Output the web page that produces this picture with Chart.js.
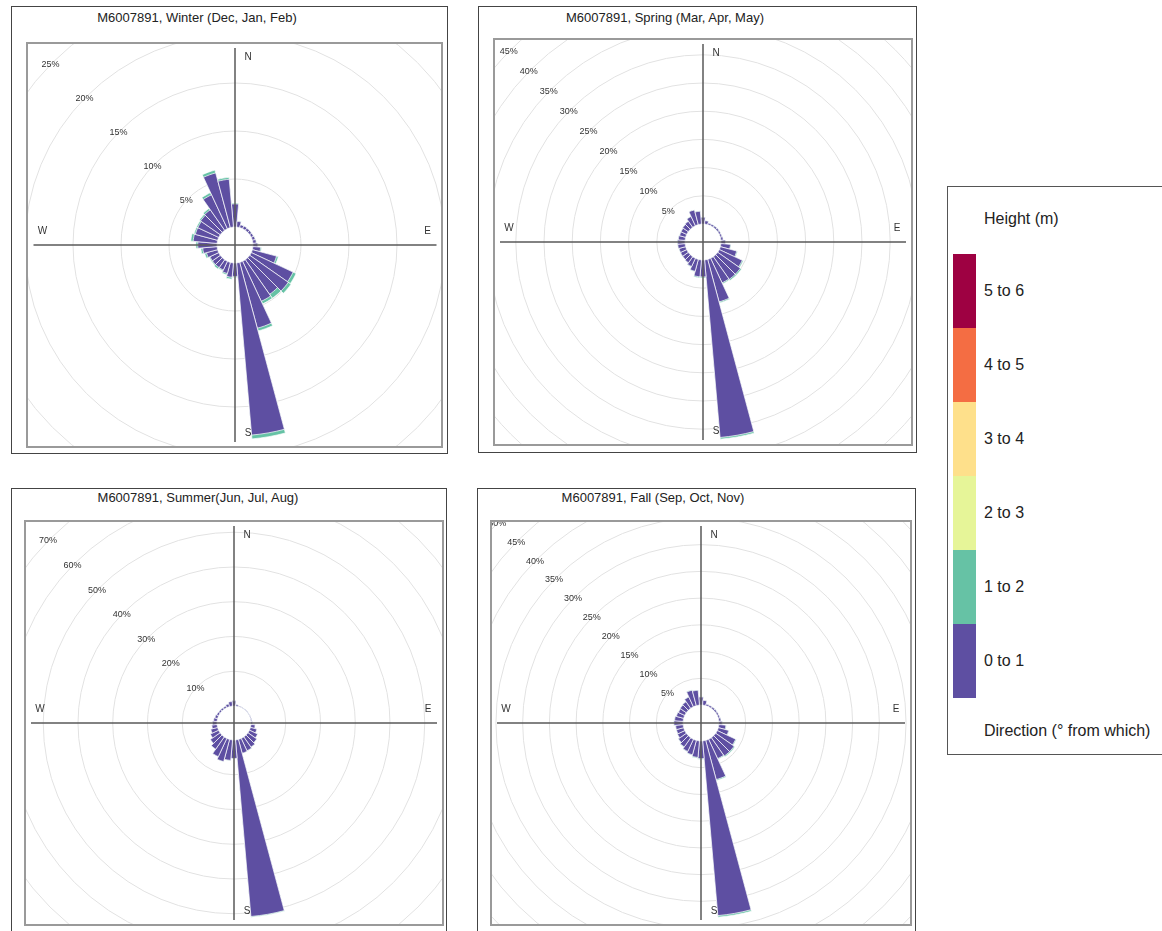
<!DOCTYPE html>
<html>
<head>
<meta charset="utf-8">
<script src="https://cdn.jsdelivr.net/npm/chart.js@4.4.1/dist/chart.umd.min.js"></script>
<style>
  html, body { margin: 0; padding: 0; background: #fff; }
  body { width: 1162px; height: 931px; overflow: hidden; position: relative; font-family: "Liberation Sans", Arial, sans-serif; }
  .frame { position: absolute; border: 1.5px solid #444; box-sizing: border-box; }
  .title { position: absolute; font-size: 13px; color: #222; white-space: nowrap; transform: translateX(-50%); }
  .box { position: absolute; border: 2px solid #9a9a9a; box-sizing: border-box; overflow: hidden; }
  .box canvas { position: absolute; }
  .legend { position: absolute; left: 947px; top: 186px; width: 240px; height: 569px; border: 1px solid #555; box-sizing: border-box; }
  .legend .txt { position: absolute; left: 36px; font-size: 16px; color: #222; white-space: nowrap; transform: translateY(-50%); }
  .legend .swatch { position: absolute; left: 5px; width: 23px; }
</style>
</head>
<body>
<div id="root"></div>
<div class="legend" id="legend"></div>
<script>
// direction bins (degrees, from which), 10 degree sectors
const directions = [0, 10, 20, 30, 40, 50, 60, 70, 80, 90, 100, 110, 120, 130, 140, 150, 160, 170,
                    180, 190, 200, 210, 220, 230, 240, 250, 260, 270, 280, 290, 300, 310, 320, 330, 340, 350];

const heightBins = ['0 to 1', '1 to 2', '2 to 3', '3 to 4', '4 to 5', '5 to 6'];
const heightColors = ['#5e4fa2', '#66c2a5', '#e6f598', '#fee08b', '#f46d43', '#9e0142'];

// frequency (%) per direction, height 0-1 m and 1-2 m
const winterLow = [2.4, 0.6, 0.3, 0.3, 0.25, 0.25, 0.25, 0.3, 0.35, 0.5, 0.8, 2.6, 4.8, 4.9, 4.4, 4.6, 7.1, 18.0,
                   1.4, 1.5, 1.2, 1.0, 1.0, 1.0, 1.0, 1.2, 1.5, 2.0, 2.5, 2.4, 2.4, 2.5, 2.6, 3.9, 5.9, 5.0];
const winterMid = [0.1, 0.05, 0.02, 0.02, 0.02, 0.02, 0.02, 0.02, 0.03, 0.05, 0.1, 0.2, 0.35, 0.35, 0.5, 0.3, 0.3, 0.4,
                   0.1, 0.2, 0.15, 0.1, 0.2, 0.1, 0.1, 0.2, 0.2, 0.2, 0.25, 0.15, 0.15, 0.15, 0.2, 0.25, 0.3, 0.2];

const springLow = [1.2, 0.6, 0.3, 0.3, 0.3, 0.3, 0.3, 0.3, 0.4, 0.8, 1.7, 3.0, 4.5, 4.9, 4.9, 4.8, 7.8, 31.6,
                   3.0, 3.0, 2.2, 1.6, 1.3, 1.2, 1.2, 1.2, 1.3, 1.3, 1.2, 1.1, 1.1, 1.2, 1.3, 1.8, 2.7, 2.3];
const springMid = [0.05, 0.03, 0.02, 0.02, 0.02, 0.02, 0.02, 0.02, 0.03, 0.05, 0.1, 0.15, 0.2, 0.25, 0.25, 0.2, 0.2, 0.3,
                   0.2, 0.2, 0.1, 0.1, 0.05, 0.05, 0.05, 0.05, 0.05, 0.1, 0.05, 0.05, 0.05, 0.05, 0.05, 0.05, 0.05, 0.05];

const summerLow = [1.5, 0.4, 0.2, 0.15, 0.15, 0.15, 0.15, 0.2, 0.25, 0.4, 1.2, 1.9, 2.6, 3.1, 3.6, 3.9, 4.1, 51.0,
                   5.3, 5.9, 6.6, 5.8, 4.3, 3.4, 2.6, 2.0, 1.5, 1.3, 1.0, 0.8, 0.6, 0.5, 0.5, 0.5, 0.8, 1.3];
const summerMid = [0.03, 0.01, 0.01, 0.01, 0.01, 0.01, 0.01, 0.01, 0.01, 0.02, 0.03, 0.05, 0.05, 0.05, 0.05, 0.05, 0.05, 0.2,
                   0.05, 0.05, 0.05, 0.05, 0.05, 0.03, 0.03, 0.02, 0.02, 0.02, 0.02, 0.02, 0.01, 0.01, 0.01, 0.01, 0.02, 0.02];

const fallLow = [1.5, 0.9, 0.3, 0.3, 0.3, 0.3, 0.3, 0.3, 0.4, 0.6, 1.3, 2.0, 3.8, 4.2, 4.2, 4.0, 7.6, 32.8,
                 3.3, 3.1, 2.8, 2.5, 2.1, 1.8, 1.5, 1.4, 1.4, 1.7, 1.6, 1.4, 1.3, 1.4, 1.5, 2.0, 3.0, 2.8];
const fallMid = [0.05, 0.03, 0.02, 0.02, 0.02, 0.02, 0.02, 0.02, 0.03, 0.05, 0.1, 0.1, 0.15, 0.2, 0.2, 0.15, 0.2, 0.3,
                 0.15, 0.15, 0.1, 0.1, 0.1, 0.05, 0.05, 0.05, 0.05, 0.05, 0.05, 0.05, 0.05, 0.05, 0.05, 0.05, 0.1, 0.05];

// layout of the four panels
const panels = [
  { title: 'M6007891, Winter (Dec, Jan, Feb)', low: winterLow, mid: winterMid,
    hole: 1.875, max: 30, step: 5, radius: 306,
    frame: [11, 6, 437, 448], titleX: 197, titleY: 10, box: [26, 42, 417, 406] },
  { title: 'M6007891, Spring (Mar, Apr, May)', low: springLow, mid: springMid,
    hole: 3.19, max: 50, step: 5, radius: 300,
    frame: [478, 6, 439, 447], titleX: 665, titleY: 10, box: [493, 38, 420, 408] },
  { title: 'M6007891, Summer(Jun, Jul, Aug)', low: summerLow, mid: summerMid,
    hole: 4.9, max: 80, step: 10, radius: 295,
    frame: [11, 488, 436, 460], titleX: 198, titleY: 490, box: [24, 520, 420, 406] },
  { title: 'M6007891, Fall (Sep, Oct, Nov)', low: fallLow, mid: fallMid,
    hole: 3.36, max: 55, step: 5, radius: 312,
    frame: [477, 488, 439, 460], titleX: 653, titleY: 490, box: [490, 520, 422, 406] }
];

// hollow centre + crosshair, compass letters and ring labels
const roseDecor = {
  id: 'roseDecor',
  afterDatasetsUpdate(chart) {
    const scale = chart.scales.r;
    const r0 = scale.getDistanceFromCenterForValue(0);
    chart.data.datasets.forEach((ds, i) => {
      chart.getDatasetMeta(i).data.forEach(arc => { arc.innerRadius = r0; });
    });
  },
  afterDatasetsDraw(chart, args, opts) {
    const scale = chart.scales.r;
    const ctx = chart.ctx;
    const cx = scale.xCenter, cy = scale.yCenter;
    const hw = opts.halfW, hh = opts.halfH;
    ctx.save();
    ctx.strokeStyle = '#5a5a5a';
    ctx.lineWidth = 1.5;
    ctx.beginPath();
    ctx.moveTo(cx, cy - hh + 4);
    ctx.lineTo(cx, cy + hh - 4);
    ctx.moveTo(cx - hw + 5, cy);
    ctx.lineTo(cx + hw - 5, cy);
    ctx.stroke();

    ctx.fillStyle = '#333';
    ctx.textAlign = 'center';
    ctx.textBaseline = 'middle';
    ctx.font = '10px "Liberation Sans", Arial, sans-serif';
    ctx.fillText('N', cx + 13, cy - hh + 13);
    ctx.fillText('S', cx + 13, cy + hh - 13);
    ctx.fillText('E', cx + hw - 14, cy - 14);
    ctx.fillText('W', cx - hw + 14, cy - 14);

    ctx.font = '9px "Liberation Sans", Arial, sans-serif';
    scale.ticks.forEach(t => {
      if (t.value <= 0) return;
      const d = scale.getDistanceFromCenterForValue(t.value) * Math.SQRT1_2;
      ctx.fillText(t.value + '%', cx - d - 2, cy - d + 2);
    });
    ctx.restore();
  }
};

const root = document.getElementById('root');

panels.forEach(p => {
  const frame = document.createElement('div');
  frame.className = 'frame';
  frame.style.left = p.frame[0] + 'px';
  frame.style.top = p.frame[1] + 'px';
  frame.style.width = p.frame[2] + 'px';
  frame.style.height = p.frame[3] + 'px';
  root.appendChild(frame);

  const title = document.createElement('div');
  title.className = 'title';
  title.textContent = p.title;
  title.style.left = p.titleX + 'px';
  title.style.top = p.titleY + 'px';
  root.appendChild(title);

  const box = document.createElement('div');
  box.className = 'box';
  box.style.left = p.box[0] + 'px';
  box.style.top = p.box[1] + 'px';
  box.style.width = p.box[2] + 'px';
  box.style.height = p.box[3] + 'px';
  root.appendChild(box);

  const innerW = p.box[2] - 4, innerH = p.box[3] - 4;
  const canvas = document.createElement('canvas');
  canvas.width = p.radius * 2;
  canvas.height = p.radius * 2;
  canvas.style.left = (innerW / 2 - p.radius) + 'px';
  canvas.style.top = (innerH / 2 - p.radius) + 'px';
  box.appendChild(canvas);

  new Chart(canvas, {
    type: 'polarArea',
    data: {
      labels: directions,
      datasets: [
        { label: heightBins[0], data: p.low, backgroundColor: heightColors[0],
          borderColor: '#ffffff', borderWidth: 0.7 },
        { label: heightBins[1], data: p.low.map((v, i) => v + p.mid[i]), backgroundColor: heightColors[1],
          borderColor: '#ffffff', borderWidth: 0.7 }
      ]
    },
    options: {
      responsive: false,
      animation: false,
      events: [],
      layout: { padding: 0 },
      plugins: {
        legend: { display: false },
        tooltip: { enabled: false },
        roseDecor: { halfW: innerW / 2, halfH: innerH / 2 }
      },
      scales: {
        r: {
          min: -p.hole,
          max: p.max,
          startAngle: -5,
          ticks: { display: false, stepSize: p.step },
          grid: {
            color: c => (c.tick && c.tick.value > 0) ? '#e2e2e2' : 'rgba(0,0,0,0)',
            lineWidth: 1
          },
          angleLines: { display: false },
          pointLabels: { display: false }
        }
      }
    },
    plugins: [roseDecor]
  });
});

// colour legend
const legend = document.getElementById('legend');
function addText(text, y) {
  const el = document.createElement('div');
  el.className = 'txt';
  el.textContent = text;
  el.style.top = y + 'px';
  legend.appendChild(el);
}
addText('Height (m)', 32);
const swatchTop = 67, swatchH = 74;
for (let i = heightBins.length - 1; i >= 0; i--) {
  const row = heightBins.length - 1 - i;
  const sw = document.createElement('div');
  sw.className = 'swatch';
  sw.style.top = (swatchTop + row * swatchH) + 'px';
  sw.style.height = swatchH + 'px';
  sw.style.background = heightColors[i];
  legend.appendChild(sw);
  addText(heightBins[i], swatchTop + row * swatchH + swatchH / 2);
}
addText('Direction (\u00b0 from which)', 544);
</script>
</body>
</html>
